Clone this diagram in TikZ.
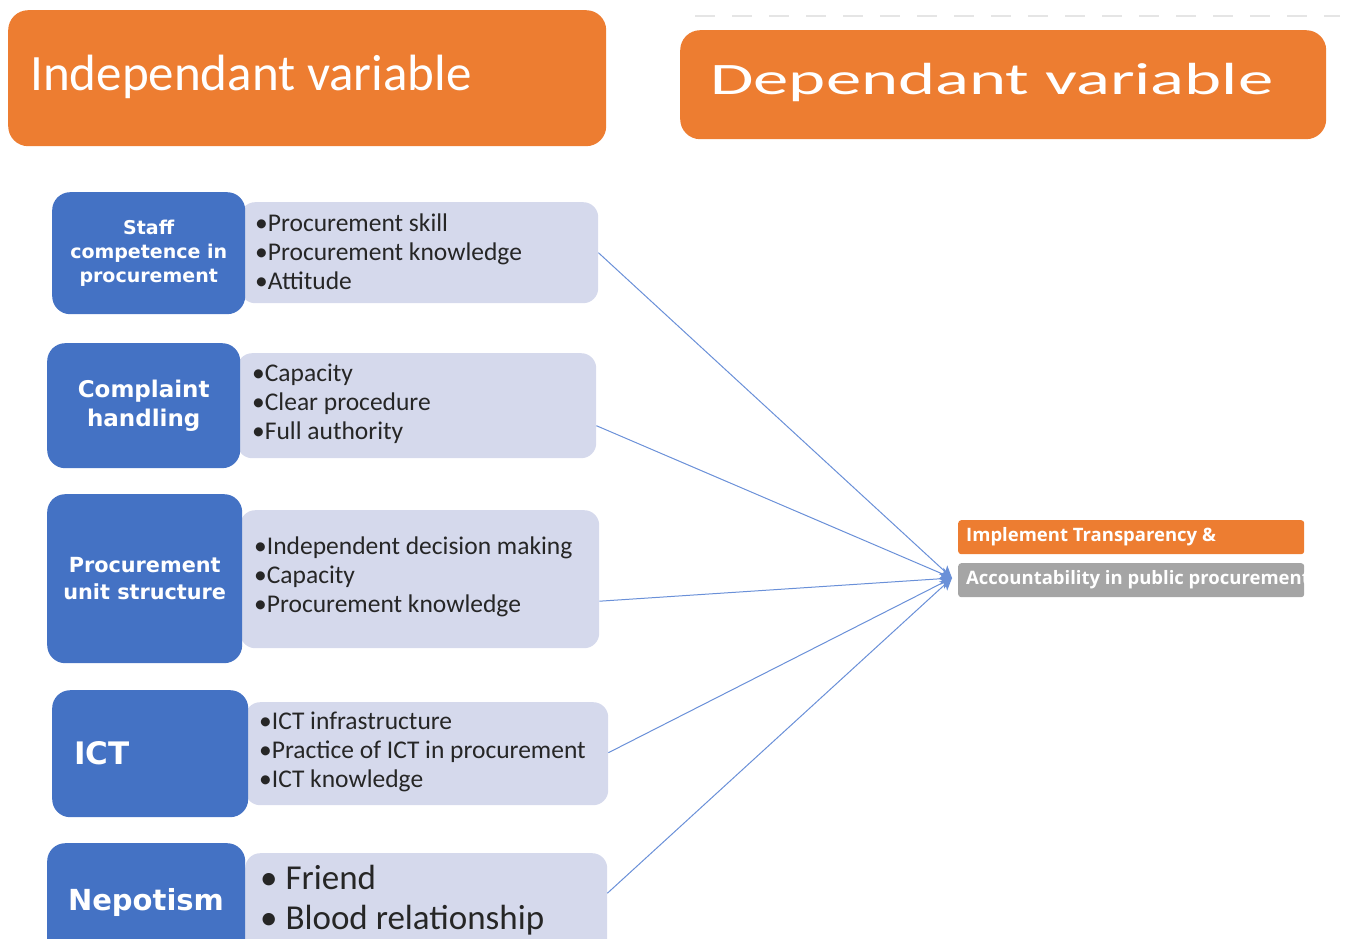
\documentclass[tikz,border=0pt]{standalone}
\usepackage{fontspec}
\setmainfont{Carlito}
\newfontfamily\dv{DejaVu Sans}
\newfontfamily\os{Open Sans}
\usetikzlibrary{arrows.meta}
\definecolor{org}{HTML}{ED7D31}
\definecolor{blu}{HTML}{4472C4}
\definecolor{lgt}{HTML}{D5D9EC}
\definecolor{gry}{HTML}{A5A5A5}
\definecolor{lnk}{HTML}{6A90D8}
\tikzset{
  head/.style={fill=org, draw=none, rounded corners=20pt, anchor=north west, inner sep=0pt},
  bluebox/.style={fill=blu, draw=none, rounded corners=18pt, anchor=north west, inner sep=0pt, text=white, align=center, font=\dv\bfseries},
  lightbox/.style={fill=lgt, draw=none, rounded corners=15pt, anchor=north west, inner sep=0pt},
  items/.style={anchor=west, align=left, inner sep=0pt, font=\fontsize{25.5}{29}\selectfont, text=black!85},
  link/.style={draw=lnk, line width=1pt, -{Stealth[length=12pt,width=12pt,inset=3pt]}},
  tag/.style={anchor=north west, minimum width=346pt, minimum height=34pt, inner sep=0pt, rounded corners=3pt},
  tagtext/.style={anchor=west, inner sep=0pt, text=white, font=\os\fontsize{18.5}{22}\selectfont\bfseries}
}
\begin{document}
\begin{tikzpicture}[x=1pt,y=-1pt]
\useasboundingbox (0,0) rectangle (1349,939);
\clip (0,0) rectangle (1349,939);
% headers
\node[head, minimum width=598pt, minimum height=136pt] (ih) at (8,10) {};
\node[anchor=west, text=white, font=\fontsize{51}{60}\selectfont, inner sep=0pt] (iht) at (30,77) {Independant variable};
\node[head, minimum width=646pt, minimum height=109pt] (dh) at (680,30) {};
\node[anchor=west, text=white, font=\fontsize{45}{50}\selectfont, inner sep=0pt, xscale=1.57, transform shape] (dht) at (710,83) {Dependant variable};
\coordinate (dl1) at (695,16);
\coordinate (dl2) at (1340,16);
\draw[black!10, line width=1.2pt, dash pattern=on 20pt off 17pt] (dl1) -- (dl2);
% row 1
\node[lightbox, minimum width=358pt, minimum height=101pt] (l1) at (240,202) {};
\node[bluebox, minimum width=193pt, minimum height=122pt, font=\dv\bfseries\fontsize{19}{24}\selectfont] (b1) at (52,192) {Staff\\competence in\\procurement};
\node[items] (t1) at (255,252) {•Procurement skill\\•Procurement knowledge\\•Attitude};
% row 2
\node[lightbox, minimum width=359pt, minimum height=105pt] (l2) at (237,353) {};
\node[bluebox, minimum width=193pt, minimum height=125pt, font=\dv\bfseries\fontsize{23}{29}\selectfont] (b2) at (47,343) {Complaint\\handling};
\node[items] (t2) at (252,404) {•Capacity\\•Clear procedure\\•Full authority};
% row 3
\node[lightbox, minimum width=359pt, minimum height=138pt] (l3) at (240,510) {};
\node[bluebox, minimum width=195pt, minimum height=169pt, font=\dv\bfseries\fontsize{20.8}{27}\selectfont] (b3) at (47,494) {Procurement\\unit structure};
\node[items] (t3) at (254,577) {•Independent decision making\\•Capacity\\•Procurement knowledge};
% row 4
\node[lightbox, minimum width=363pt, minimum height=103pt] (l4) at (245,702) {};
\node[bluebox, minimum width=196pt, minimum height=127pt] (b4) at (52,690) {};
\node[anchor=west, text=white, font=\dv\bfseries\fontsize{31}{36}\selectfont, inner sep=0pt] (b4t) at (74,753) {ICT};
\node[items] (t4) at (259,752) {•ICT infrastructure\\•Practice of ICT in procurement\\•ICT knowledge};
% row 5
\node[lightbox, minimum width=362pt, minimum height=140pt] (l5) at (245,853) {};
\node[bluebox, minimum width=198pt, minimum height=140pt] (b5) at (47,843) {};
\node[text=white, font=\dv\bfseries\fontsize{29}{34}\selectfont, inner sep=0pt] (b5t) at (146,902) {Nepotism};
\node[anchor=west, align=left, inner sep=0pt, font=\fontsize{35}{40}\selectfont, text=black!85] (t5) at (260,900) {• Friend\\• Blood relationship};
% dependent tags
\node[tag, fill=org] (dep1) at (958,520) {};
\node[tagtext] (dep1t) at (966,537) {Implement Transparency \&};
\begin{scope}
\clip (958,563) rectangle (1304,597);
\node[tag, fill=gry] (dep2) at (958,563) {};
\node[tagtext] (dep2t) at (966,580) {Accountability in public procurement};
\end{scope}
% links
\coordinate (tip) at (952,578);
\draw[link] (l1.east) -- (tip);
\draw[link] ([yshift=-20pt]l2.east) -- (tip);
\draw[link] ([yshift=-22pt]l3.east) -- (tip);
\draw[link] ([yshift=1pt]l4.east) -- (tip);
\draw[link] ([yshift=30pt]l5.east) -- (tip);
\end{tikzpicture}
\end{document}
